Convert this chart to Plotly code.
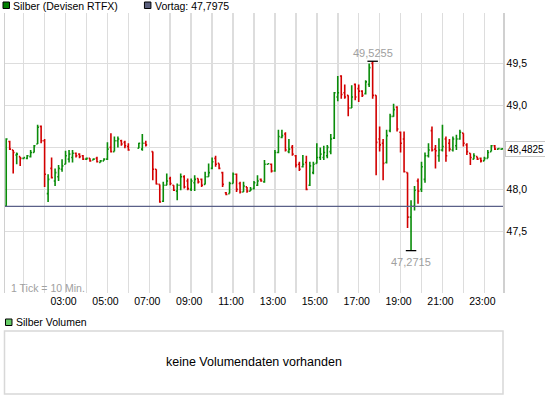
import plotly.graph_objects as go

# ---- data (10-minute OHLC bars, minutes after midnight) ----
bar_minutes = [10 * (i + 1) for i in range(143)]

opens = [47.80, 48.57, 48.47, 48.41, 48.39, 48.37, 48.37, 48.39, 48.44, 48.54,
         48.75, 48.58, 47.95, 48.25, 48.10, 48.15, 48.24, 48.30, 48.36, 48.38,
         48.43, 48.42, 48.40, 48.36, 48.37, 48.35, 48.37, 48.32, 48.34, 48.36,
         48.50, 48.45, 48.58, 48.58, 48.56, 48.51, None, None, 48.49, 48.48,
         48.55, None, 48.45, 48.24, 48.06, 47.86, 48.05, 48.13, 48.05, 47.98,
         48.05, 48.15, 48.10, 48.00, 48.08, 48.13, 48.12, 48.06, 48.15, 48.25,
         48.37, 48.31, 48.20, 47.96, 47.95, 48.07, 48.18, 48.07, 47.97, 48.03,
         47.98, 48.01, 48.05, 48.12, 48.09, 48.30, 48.30, 48.22, 48.44, 48.62,
         48.66, 48.45, 48.50, 48.40, 48.30, 48.27, 48.32, 48.05, 48.20, 48.31,
         48.38, 48.38, 48.40, 48.45, 48.61, 49.10, 49.35, 49.15, 49.12, 48.97,
         49.25, 49.20, 49.17, 49.14, 49.25, 49.50, 49.12, 48.60, 48.55, 48.32,
         48.70, 48.87, 48.98, 48.68, 48.60, 48.20, 47.67, 47.80, 48.10, 48.00,
         48.12, 48.40, 48.70, 48.48, 48.40, 48.47, 48.60, 48.55, 48.47, 48.52,
         48.60, 48.67, 48.53, 48.43, 48.36, 48.39, 48.37, 48.34, 48.37, 48.45,
         48.52, 48.48, 48.48]
highs = [48.61, 48.58, 48.47, 48.44, 48.39, 48.38, 48.41, 48.47, 48.53, 48.77,
         48.76, 48.60, 48.18, 48.38, 48.25, 48.29, 48.36, 48.46, 48.47, 48.47,
         48.44, 48.43, 48.41, 48.38, 48.37, 48.37, 48.39, 48.35, 48.37, 48.56,
         48.67, 48.63, 48.63, 48.59, 48.58, 48.55, None, None, 48.555, 48.66,
         48.58, None, 48.45, 48.24, 48.06, 48.09, 48.19, 48.15, 48.05, 48.07,
         48.19, 48.17, 48.13, 48.13, 48.17, 48.13, 48.13, 48.21, 48.31, 48.38,
         48.40, 48.31, 48.21, 47.97, 48.09, 48.20, 48.19, 48.09, 48.09, 48.03,
         48.03, 48.10, 48.17, 48.13, 48.35, 48.31, 48.31, 48.47, 48.71, 48.71,
         48.68, 48.60, 48.53, 48.41, 48.33, 48.41, 48.40, 48.33, 48.33, 48.55,
         48.50, 48.52, 48.53, 48.66, 49.16, 49.35, 49.36, 49.25, 49.12, 49.24,
         49.26, 49.25, 49.18, 49.30, 49.50, 49.5255, 49.12, 48.75, 48.60, 48.71,
         48.90, 49.02, 48.99, 48.69, 48.69, 48.20, 47.87, 48.04, 48.13, 48.33,
         48.44, 48.55, 48.75, 48.53, 48.61, 48.77, 48.63, 48.60, 48.63, 48.65,
         48.71, 48.67, 48.55, 48.43, 48.43, 48.39, 48.38, 48.39, 48.47, 48.53,
         48.53, 48.49, 48.49]
lows = [47.80, 48.47, 48.19, 48.30, 48.28, 48.36, 48.36, 48.38, 48.44, 48.54,
        48.55, 48.03, 47.85, 48.13, 48.04, 48.10, 48.21, 48.30, 48.32, 48.32,
        48.38, 48.37, 48.35, 48.35, 48.33, 48.35, 48.32, 48.32, 48.34, 48.35,
        48.44, 48.45, 48.50, 48.52, 48.49, 48.46, None, None, 48.49, 48.46,
        48.51, None, 48.11, 48.06, 47.84, 47.85, 48.05, 48.05, 47.98, 47.87,
        47.99, 48.01, 47.99, 47.98, 47.98, 48.07, 48.03, 48.06, 48.15, 48.24,
        48.27, 48.24, 48.03, 47.93, 47.95, 48.07, 47.97, 47.95, 47.97, 47.96,
        47.98, 48.00, 48.04, 48.09, 48.08, 48.30, 48.20, 48.21, 48.43, 48.61,
        48.45, 48.43, 48.40, 48.26, 48.22, 48.26, 47.99, 48.04, 48.18, 48.31,
        48.35, 48.35, 48.37, 48.42, 48.60, 49.05, 49.08, 49.08, 48.87, 48.97,
        49.06, 49.04, 49.10, 49.13, 49.22, 49.08, 48.17, 48.45, 48.11, 48.31,
        48.68, 48.865, 48.69, 48.44, 48.20, 47.54, 47.2715, 47.75, 47.83, 47.97,
        48.08, 48.38, 48.45, 48.25, 48.33, 48.45, 48.33, 48.45, 48.45, 48.47,
        48.59, 48.51, 48.41, 48.29, 48.36, 48.35, 48.32, 48.34, 48.37, 48.45,
        48.47, 48.48, 48.48]
closes = [48.60, 48.48, 48.44, 48.42, 48.37, 48.38, 48.40, 48.44, 48.52, 48.74,
          48.58, 48.18, 48.12, 48.14, 48.20, 48.25, 48.28, 48.40, 48.42, 48.43,
          48.40, 48.39, 48.36, 48.37, 48.34, 48.36, 48.33, 48.34, 48.36, 48.48,
          48.45, 48.58, 48.60, 48.54, 48.52, 48.47, None, None, 48.55, 48.55,
          48.53, None, 48.24, 48.065, 47.85, 48.05, 48.10, 48.07, 47.99, 48.05,
          48.15, 48.03, 48.01, 48.10, 48.12, 48.09, 48.05, 48.15, 48.20, 48.33,
          48.30, 48.25, 48.06, 47.94, 48.07, 48.18, 48.00, 47.97, 48.04, 47.98,
          48.00, 48.08, 48.10, 48.10, 48.30, 48.305, 48.22, 48.44, 48.63, 48.64,
          48.47, 48.48, 48.42, 48.29, 48.24, 48.30, 48.00, 48.28, 48.30, 48.38,
          48.42, 48.44, 48.50, 48.60, 49.15, 49.15, 49.13, 49.10, 48.97, 49.10,
          49.10, 49.17, 49.12, 49.28, 49.45, 49.12, 48.56, 48.53, 48.31, 48.64,
          48.87, 48.95, 48.72, 48.55, 48.21, 47.67, 47.80, 47.99, 47.98, 48.27,
          48.40, 48.47, 48.47, 48.46, 48.47, 48.51, 48.40, 48.48, 48.60, 48.60,
          48.68, 48.55, 48.45, 48.38, 48.40, 48.36, 48.34, 48.37, 48.44, 48.52,
          48.48, 48.485, 48.4825]

vortag = 47.7975
y_ticks = [47.5, 48.0, 48.5, 49.0, 49.5]
y_labels = ["47,5", "48,0", "", "49,0", "49,5"]
hour_ticks = [60 * h for h in range(1, 24)]
hour_labels = [("%02d:00" % h) if (h % 2 == 1 and h >= 3) else "" for h in range(1, 24)]

GREEN = "#0a8c0a"
RED = "#d20000"
GRID = "#dddddd"
FONT = "Liberation Sans"

# keep only existing bars
idx = [i for i in range(len(bar_minutes)) if opens[i] is not None]
xs = [bar_minutes[i] for i in idx]

fig = go.Figure()
fig.add_trace(go.Ohlc(
    x=xs,
    open=[opens[i] for i in idx], high=[highs[i] for i in idx],
    low=[lows[i] for i in idx], close=[closes[i] for i in idx],
    increasing=dict(line=dict(color=GREEN, width=1.6)),
    decreasing=dict(line=dict(color=RED, width=1.6)),
    tickwidth=0.38, showlegend=False, hoverinfo="skip"))

# previous-day reference line
fig.add_trace(go.Scatter(x=[6.5, 1433.5], y=[vortag, vortag], mode="lines",
                         line=dict(color="#5a6088", width=1.3),
                         showlegend=False, hoverinfo="skip"))

# high / low markers
valid_highs = [(highs[i], i) for i in idx]
valid_lows = [(lows[i], i) for i in idx]
hi_val, hi_i = max(valid_highs)
lo_val, lo_i = min(valid_lows)
for val, i in [(hi_val, hi_i), (lo_val, lo_i)]:
    fig.add_trace(go.Scatter(x=[bar_minutes[i] - 15, bar_minutes[i] + 15], y=[val, val],
                             mode="lines", line=dict(color="#000000", width=1.3),
                             showlegend=False, hoverinfo="skip"))


def px_x(p):
    return (p - 3) / 500.0


def px_y(p):
    return (293 - p) / 280.0


def fmt(v):
    return ("%.4f" % v).replace(".", ",")


annotations = [
    dict(x=bar_minutes[hi_i], y=hi_val, xref="x", yref="y", text=fmt(hi_val),
         showarrow=False, yanchor="bottom", yshift=0,
         font=dict(family=FONT, size=11, color="#a0a0a0")),
    dict(x=bar_minutes[lo_i], y=lo_val, xref="x", yref="y", text=fmt(lo_val),
         showarrow=False, yanchor="top", yshift=-3,
         font=dict(family=FONT, size=11, color="#a0a0a0")),
    dict(x=px_x(505.5), y=closes[-1], xref="paper", yref="y", text=fmt(closes[-1]),
         showarrow=False, xanchor="left", yanchor="middle",
         bordercolor="#c8c8c8", borderwidth=1, borderpad=1.5, bgcolor="#ffffff",
         font=dict(family=FONT, size=10, color="#000000")),
    dict(x=px_x(9.5), y=px_y(5.5), xref="paper", yref="paper", text="Silber (Devisen RTFX)",
         showarrow=False, xanchor="left", yanchor="middle",
         font=dict(family=FONT, size=10.5, color="#000000")),
    dict(x=px_x(152), y=px_y(5.5), xref="paper", yref="paper", text="Vortag: " + fmt(vortag),
         showarrow=False, xanchor="left", yanchor="middle",
         font=dict(family=FONT, size=10.5, color="#000000")),
    dict(x=px_x(7.5), y=px_y(288), xref="paper", yref="paper", text="1 Tick = 10 Min.",
         showarrow=False, xanchor="left", yanchor="middle",
         font=dict(family=FONT, size=10.5, color="#a0a0a0")),
    dict(x=px_x(12.5), y=px_y(322), xref="paper", yref="paper", text="Silber Volumen",
         showarrow=False, xanchor="left", yanchor="middle",
         font=dict(family=FONT, size=10.5, color="#000000")),
    dict(x=px_x(252.6), y=px_y(362), xref="paper", yref="paper",
         text="keine Volumendaten vorhanden",
         showarrow=False, xanchor="center", yanchor="middle",
         font=dict(family=FONT, size=12.5, color="#000000")),
]

shapes = [
    dict(type="rect", xref="paper", yref="paper", x0=px_x(1), x1=px_x(7.5),
         y0=px_y(8.5), y1=px_y(2), fillcolor="#008000", line=dict(color="#000000", width=1)),
    dict(type="rect", xref="paper", yref="paper", x0=px_x(143), x1=px_x(149.5),
         y0=px_y(8.5), y1=px_y(2), fillcolor="#5a5f7c", line=dict(color="#000000", width=1)),
    dict(type="rect", xref="paper", yref="paper", x0=px_x(3.5), x1=px_x(10),
         y0=px_y(325.5), y1=px_y(319), fillcolor="#66cc66", line=dict(color="#000000", width=1)),
    dict(type="rect", xref="paper", yref="paper", x0=px_x(2.5), x1=px_x(503),
         y0=px_y(394), y1=px_y(331), line=dict(color="#d8d8d8", width=1.5)),
]

fig.update_layout(
    width=545, height=398,
    margin=dict(l=3, r=42, t=13, b=105),
    paper_bgcolor="#ffffff", plot_bgcolor="#ffffff",
    separators=",.",
    showlegend=False,
    font=dict(family=FONT, size=10.5, color="#000000"),
    annotations=annotations, shapes=shapes,
    xaxis=dict(range=[6.5, 1433.5], tickmode="array", tickvals=hour_ticks, ticktext=hour_labels,
               showgrid=True, gridcolor=GRID, gridwidth=1.5, zeroline=False, showline=False,
               ticks="", rangeslider=dict(visible=False), fixedrange=True,
               ticklabelshift=-2, tickfont=dict(family=FONT, size=10.5, color="#000000")),
    yaxis=dict(range=[46.767, 50.1], side="right", tickmode="array", tickvals=y_ticks,
               ticktext=y_labels, showgrid=True, gridcolor=GRID, gridwidth=1.5,
               zeroline=False, showline=True, mirror=True, linecolor="#d0d0d0", linewidth=1.5,
               ticks="", fixedrange=True,
               tickfont=dict(family=FONT, size=10.5, color="#000000")),
)

fig.write_html("out.html",
               config={"displayModeBar": False, "staticPlot": True},
               post_script="document.body.style.margin='0';document.body.style.overflow='hidden';")
